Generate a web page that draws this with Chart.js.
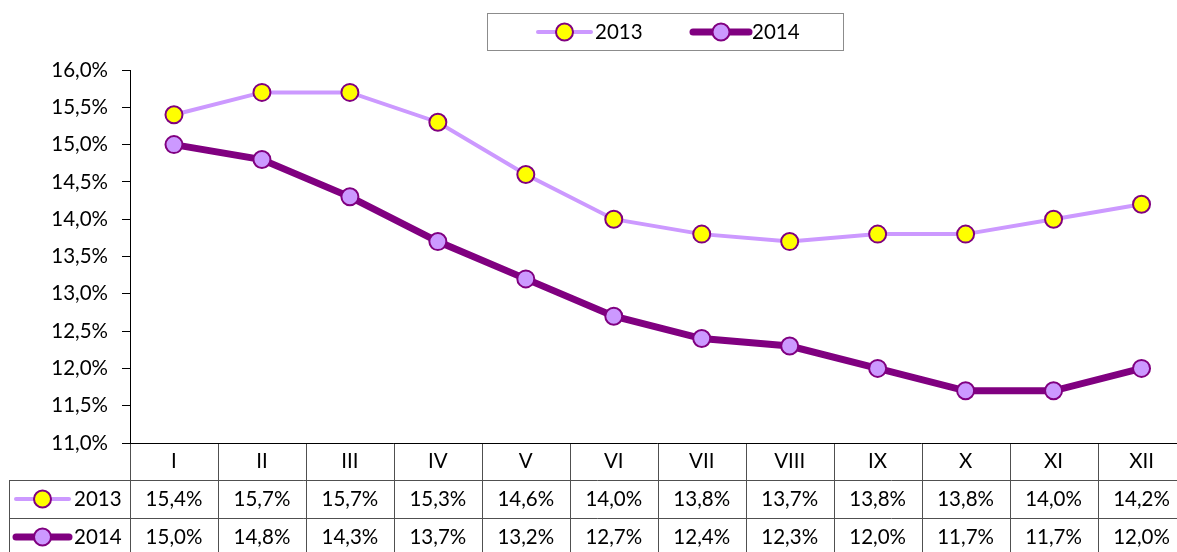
<!DOCTYPE html>
<html>
<head>
<meta charset="utf-8">
<script src="https://cdn.jsdelivr.net/npm/chart.js@4/dist/chart.umd.min.js"></script>
<style>
  html, body { margin: 0; padding: 0; background: #fff; overflow: hidden; }
  #wrap { position: absolute; left: 0; top: 0; width: 1196px; height: 552px; }
  #chart { width: 1196px; height: 552px; }
</style>
</head>
<body>
<div id="wrap"><canvas id="chart" width="1196" height="552"></canvas></div>
<script>
const months = ['I', 'II', 'III', 'IV', 'V', 'VI', 'VII', 'VIII', 'IX', 'X', 'XI', 'XII'];
const values2013 = [15.4, 15.7, 15.7, 15.3, 14.6, 14.0, 13.8, 13.7, 13.8, 13.8, 14.0, 14.2];
const values2014 = [15.0, 14.8, 14.3, 13.7, 13.2, 12.7, 12.4, 12.3, 12.0, 11.7, 11.7, 12.0];
const seriesNames = ['2013', '2014'];

const FONT = 'Lato, "Open Sans", sans-serif';
const FONT_SIZE = 20.5;
const fmt = v => v.toFixed(1).replace('.', ',') + '%';

// draws a legend key: line sample with a marker in the middle
function drawKey(ctx, ds, x1, x2, y) {
  ctx.save();
  ctx.strokeStyle = ds.borderColor;
  ctx.lineWidth = ds.borderWidth;
  ctx.lineCap = 'round';
  ctx.beginPath();
  ctx.moveTo(x1, y);
  ctx.lineTo(x2, y);
  ctx.stroke();
  ctx.beginPath();
  ctx.arc((x1 + x2) / 2, y, ds.pointRadius, 0, Math.PI * 2);
  ctx.fillStyle = ds.pointBackgroundColor;
  ctx.fill();
  ctx.lineWidth = ds.pointBorderWidth;
  ctx.strokeStyle = ds.pointBorderColor;
  ctx.stroke();
  ctx.restore();
}

const tablePlugin = {
  id: 'dataTable',
  afterDraw(chart) {
    const ctx = chart.ctx;
    const x = chart.scales.x;
    const area = chart.chartArea;
    const step = x.getPixelForTick(1) - x.getPixelForTick(0);
    const left = area.left, right = area.right;
    const top = area.bottom;
    const r1 = top + 37, r2 = top + 75, r3 = top + 113;
    const tableLeft = 9;

    ctx.save();
    // grid
    ctx.strokeStyle = '#505050';
    ctx.lineWidth = 1;
    ctx.beginPath();
    for (let i = 0; i <= months.length; i++) {
      const px = Math.round(left + i * step) + 0.5;
      ctx.moveTo(px, top);
      ctx.lineTo(px, r3);
    }
    ctx.moveTo(tableLeft + 0.5, r1);
    ctx.lineTo(tableLeft + 0.5, r3);
    [r1, r2, r3].forEach(y => {
      ctx.moveTo(tableLeft, Math.round(y) + 0.5);
      ctx.lineTo(right, Math.round(y) + 0.5);
    });
    ctx.stroke();
    // x axis line
    ctx.strokeStyle = '#000';
    ctx.beginPath();
    ctx.moveTo(left, Math.round(top) + 0.5);
    ctx.lineTo(right, Math.round(top) + 0.5);
    ctx.stroke();

    // text
    ctx.fillStyle = '#000';
    ctx.font = FONT_SIZE + 'px ' + FONT;
    ctx.textAlign = 'center';
    ctx.textBaseline = 'middle';
    months.forEach((m, i) => {
      const cx = x.getPixelForValue(i);
      ctx.fillText(m, cx, (top + r1) / 2);
      ctx.fillText(fmt(values2013[i]), cx, (r1 + r2) / 2);
      ctx.fillText(fmt(values2014[i]), cx, (r2 + r3) / 2);
    });

    // row keys
    const rows = [(r1 + r2) / 2, (r2 + r3) / 2];
    chart.data.datasets.forEach((ds, i) => {
      drawKey(ctx, ds, 16, 69, rows[i]);
      ctx.textAlign = 'left';
      ctx.fillText(ds.label, 74, rows[i]);
    });

    // top legend
    ctx.strokeStyle = '#8c8c8c';
    ctx.strokeRect(487.5, 13.5, 356, 37);
    const ly = 32;
    const keys = [[538, 591, 595], [693, 749, 752]];
    chart.data.datasets.forEach((ds, i) => {
      drawKey(ctx, ds, keys[i][0], keys[i][1], ly);
      ctx.textAlign = 'left';
      ctx.fillText(ds.label, keys[i][2], ly);
    });
    ctx.restore();
  }
};

new Chart(document.getElementById('chart'), {
  type: 'line',
  data: {
    labels: months,
    datasets: [
      {
        label: seriesNames[0],
        data: values2013,
        borderColor: '#cc99ff',
        borderWidth: 4,
        pointRadius: 8.5,
        pointBorderWidth: 2,
        pointBackgroundColor: '#ffff00',
        pointBorderColor: '#800080',
        tension: 0
      },
      {
        label: seriesNames[1],
        data: values2014,
        borderColor: '#800080',
        borderWidth: 7,
        pointRadius: 8.5,
        pointBorderWidth: 2,
        pointBackgroundColor: '#cc99ff',
        pointBorderColor: '#800080',
        tension: 0
      }
    ]
  },
  options: {
    responsive: false,
    animation: false,
    layout: { padding: { top: 70, bottom: 109, left: 0, right: 4 } },
    plugins: {
      legend: { display: false },
      tooltip: { enabled: false }
    },
    scales: {
      x: {
        display: false,
        offset: true
      },
      y: {
        min: 11,
        max: 16,
        afterFit(scale) { scale.width = 130; },
        ticks: {
          stepSize: 0.5,
          padding: 14,
          color: '#000',
          font: { family: FONT, size: FONT_SIZE },
          callback: v => fmt(v)
        },
        grid: {
          drawOnChartArea: false,
          drawTicks: true,
          tickLength: 8,
          color: '#000'
        },
        border: { display: true, color: '#000', width: 1 }
      }
    }
  },
  plugins: [tablePlugin]
});
</script>
</body>
</html>
